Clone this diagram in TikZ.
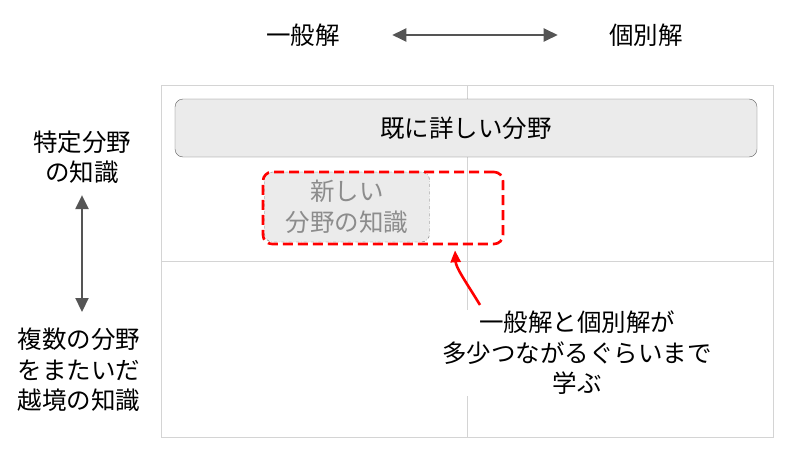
\documentclass[tikz,border=0pt]{standalone}
\usepackage{fontspec}
\setmainfont{Noto Sans CJK JP}
\usetikzlibrary{arrows.meta}
\definecolor{gridgray}{HTML}{D4D4D4}
\definecolor{boxfill}{HTML}{EBEBEB}
\definecolor{boxline}{HTML}{5E5E5E}
\definecolor{faded}{HTML}{8C8C8C}
\definecolor{dashgray}{HTML}{6E6E6E}
\definecolor{arrowgray}{HTML}{555555}
\definecolor{alert}{HTML}{FF0000}
\tikzset{
  jtext/.style={font=\fontsize{24.5}{30.5}\selectfont, align=center},
  axisarrow/.style={{Triangle[length=14pt,width=13pt]}-{Triangle[length=14pt,width=13pt]}, arrowgray, line width=2.2pt},
  knownbox/.style={jtext, draw=boxline, fill=boxfill, rounded corners=8pt, minimum width=582pt, minimum height=58pt},
  newbox/.style={jtext, text=faded, draw=dashgray, dash dot, fill=boxfill, rounded corners=8pt, minimum width=165pt, minimum height=70pt},
  reachbox/.style={draw=alert, line width=2.6pt, dash pattern=on 10pt off 5pt, rounded corners=9pt, minimum width=240pt, minimum height=72pt},
}
\newcommand{\axislabel}[3] {\node at (#1) (#2) [jtext] {#3};}
\newcommand{\twoway}[4] {\draw [axisarrow, shorten <=#3, shorten >=#4] (#1) -- (#2);}

\begin{document}
\begin{tikzpicture}[x=1pt, y=-1pt]
\useasboundingbox (0,0) rectangle (800,460);
% grid
\draw [gridgray] (161,85) rectangle (773,437);
\draw [gridgray] (467,85) -- (467,437);
\draw [gridgray] (161,261) -- (773,261);

% axes
\axislabel {303,35} {general} {一般解};
\axislabel {646,35} {specific} {個別解};
\twoway {general} {specific} {49pt} {48pt};
\axislabel {82,157} {narrow} {特定分野\\の知識};
\axislabel {79,370} {broad} {複数の分野\\をまたいだ\\越境の知識};
\twoway {narrow} {narrow |- broad} {8pt} {58pt};

% fields
\node at (466,128) (known) [knownbox] {既に詳しい分野};
\node at (347,207) (fresh) [newbox] {新しい\\分野の知識};
\node at (383,208) (reach) [reachbox] {};

% note
\node at (577,353) (note) [jtext, fill=white, inner sep=1pt] {一般解と個別解が\\多少つながるぐらいまで\\学ぶ};
\draw [alert, line width=2.6pt, -{Triangle[length=12pt,width=10pt]}]
  ([xshift=-97pt,yshift=5pt]note.north) .. controls (466,282) and (456,268) .. ([xshift=72pt,yshift=-5pt]reach.south);
\end{tikzpicture}
\end{document}
